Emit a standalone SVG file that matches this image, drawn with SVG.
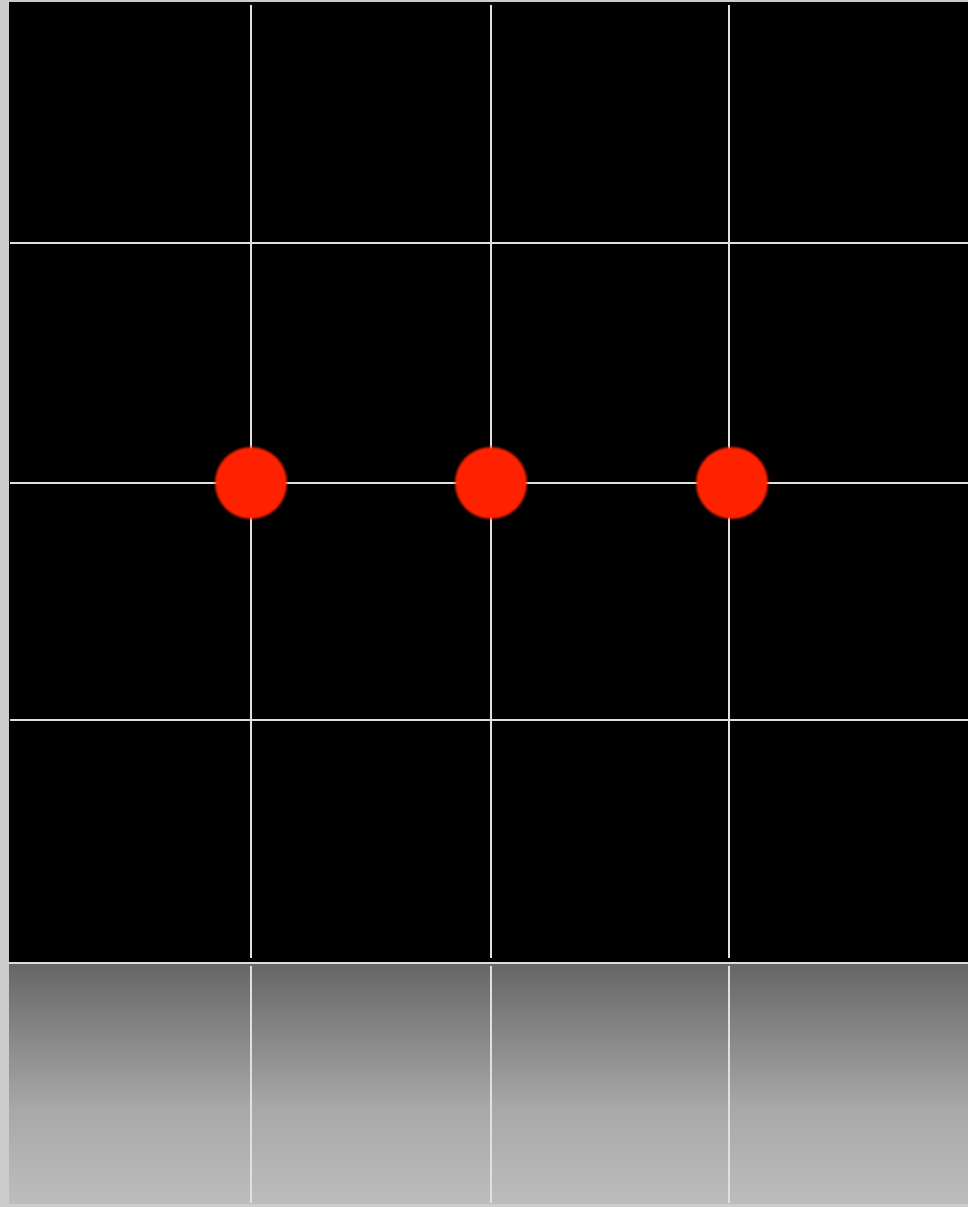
<svg xmlns="http://www.w3.org/2000/svg" width="968" height="1207" viewBox="0 0 968 1207">
<defs>
<linearGradient id="g" x1="0" y1="0" x2="0" y2="1">
<stop offset="0" stop-color="#666"/>
<stop offset="0.6" stop-color="#a8a8a8"/>
<stop offset="1" stop-color="#bdbdbd"/>
</linearGradient>
<filter id="soft" x="-10%" y="-10%" width="120%" height="120%"><feGaussianBlur stdDeviation="0.8"/></filter>
<style>
.grid{stroke:#e0e0e0;stroke-width:2;fill:none}
.dot{fill:#ff2200}
</style>
</defs>
<rect width="968" height="1207" fill="#cccccc"/>
<rect x="9" y="2" width="959" height="960" fill="#000"/>
<rect x="9" y="962" width="959" height="2" fill="#dddddd"/>
<rect x="9" y="964" width="959" height="240" fill="url(#g)"/>
<g id="connectors">
<line class="grid" x1="10" y1="243" x2="968" y2="243"/>
<line class="grid" x1="10" y1="483" x2="968" y2="483"/>
<line class="grid" x1="10" y1="720" x2="968" y2="720"/>
<line class="grid" x1="251" y1="5" x2="251" y2="958"/>
<line class="grid" x1="491" y1="5" x2="491" y2="958"/>
<line class="grid" x1="729" y1="5" x2="729" y2="958"/>
<line class="grid" x1="251" y1="966" x2="251" y2="1203"/>
<line class="grid" x1="491" y1="966" x2="491" y2="1203"/>
<line class="grid" x1="729" y1="966" x2="729" y2="1203"/>
</g>
<g id="dot1"><circle class="dot" cx="251" cy="483" r="36" filter="url(#soft)"/></g>
<g id="dot2"><circle class="dot" cx="491" cy="483" r="36" filter="url(#soft)"/></g>
<g id="dot3"><circle class="dot" cx="732" cy="483" r="36" filter="url(#soft)"/></g>
</svg>
